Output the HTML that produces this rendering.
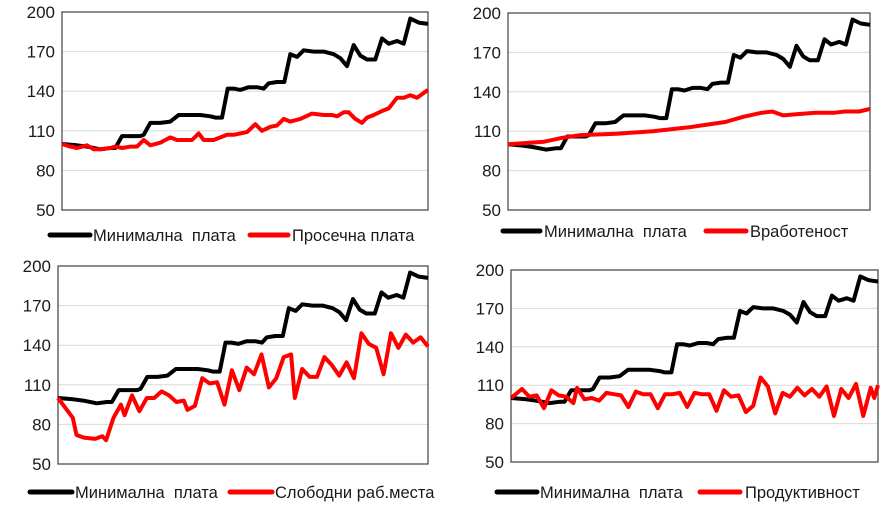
<!DOCTYPE html>
<html><head><meta charset="utf-8"><style>
body{margin:0;background:#fff;width:890px;height:513px;overflow:hidden}
svg text{font-family:"Liberation Sans","DejaVu Sans",sans-serif;fill:#1a1a1a}
</style></head><body>
<svg id="s" width="890" height="513" xmlns="http://www.w3.org/2000/svg"></svg>
<script>
const B=[[185,100],[230,99],[260,98],[300,96],[330,97],[345,97],[365,106],[420,106],[430,107],[450,116],[480,116],[510,117],[535,122],[560,122],[600,122],[630,121],[645,120],[665,120],[682,142],[700,142],[720,141],[745,143],[770,143],[790,142],[805,146],[830,147],[852,147],[870,168],[890,166],[910,171],[940,170],[970,170],[1000,168],[1020,165],[1040,159],[1060,175],[1080,167],[1100,164],[1125,164],[1145,180],[1165,176],[1190,178],[1210,176],[1230,195],[1255,192],[1283,191]].map(p=>[(p[0]-185)/1098,p[1]]);
const R1=[[185,100],[210,98],[230,97],[260,99],[280,96],[300,96],[330,97],[345,98],[365,97],[390,98],[410,98],[430,103],[450,99],[480,101],[510,105],[530,103],[575,103],[595,108],[610,103],[640,103],[680,107],[700,107],[740,109],[765,115],[785,110],[810,113],[830,114],[850,119],[870,117],[900,119],[935,123],[970,122],[995,122],[1010,121],[1030,124],[1045,124],[1065,119],[1085,116],[1100,120],[1120,122],[1145,125],[1165,127],[1190,135],[1210,135],[1230,137],[1250,135],[1283,141]].map(p=>[(p[0]-185)/1098,p[1]]);
const R2=[[0,100],[.05,101],[.1,102],[.15,105],[.2,107],[.3,108],[.4,110],[.5,113],[.55,115],[.6,117],[.65,121],[.7,124],[.73,125],[.76,122],[.8,123],[.85,124],[.9,124],[.93,125],[.97,125],[1,127]];
const R3=[[0,100],[.04,85],[.05,72],[.07,70],[.10,69],[.12,71],[.13,68],[.15,85],[.17,95],[.18,87],[.20,102],[.22,90],[.24,100],[.26,100],[.28,105],[.30,102],[.32,97],[.34,98],[.35,91],[.37,94],[.39,115],[.41,111],[.43,112],[.45,95],[.47,121],[.49,106],[.51,123],[.53,118],[.55,133],[.57,108],[.59,115],[.61,131],[.63,133],[.64,100],[.66,122],[.68,116],[.70,116],[.72,131],[.74,125],[.76,117],[.78,127],[.80,115],[.82,149],[.84,141],[.86,138],[.88,118],[.90,149],[.92,138],[.94,148],[.96,142],[.98,146],[1,139]];
const R4=[[0,100],[.03,107],[.05,101],[.07,102],[.09,92],[.11,106],[.13,102],[.15,101],[.17,96],[.18,108],[.20,99],[.22,100],[.24,98],[.26,104],[.28,103],[.30,102],[.32,93],[.34,105],[.36,103],[.38,103],[.40,92],[.42,103],[.44,103],[.46,104],[.48,93],[.50,104],[.52,103],[.54,103],[.56,90],[.58,106],[.60,101],[.62,102],[.64,89],[.66,94],[.68,116],[.70,109],[.72,88],[.74,104],[.76,101],[.78,108],[.80,102],[.82,107],[.84,101],[.86,109],[.88,86],[.90,107],[.92,100],[.94,111],[.96,86],[.98,108],[.99,100],[1,110]];
const charts=[
{l:62,r:428,t:12,b:210,red:R1,lab:"Просечна плата",ly:235,bl:[50,90,93],rl:[250,288,292]},
{l:508,r:870,t:13,b:210,red:R2,lab:"Вработеност",ly:231,bl:[503,540,544],rl:[706,746,750]},
{l:58,r:428,t:266,b:464,red:R3,lab:"Слободни раб.места",ly:492,bl:[30,72,75],rl:[230,272,275]},
{l:511,r:878,t:270,b:462,red:R4,lab:"Продуктивност",ly:492,bl:[497,537,540],rl:[700,740,745]}];
let h="";
for(const c of charts){
 const Y=v=>c.b-(v-50)/150*(c.b-c.t), X=f=>c.l+f*(c.r-c.l);
 for(let v=50;v<=200;v+=30){
  if(v>50&&v<200)h+=`<line x1="${c.l}" x2="${c.r}" y1="${Y(v)}" y2="${Y(v)}" stroke="#d9d9d9" stroke-width="1"/>`;
  h+=`<text x="${c.l-7}" y="${Y(v)+6}" font-size="17" text-anchor="end">${v}</text>`;
 }
 h+=`<rect x="${c.l}" y="${c.t}" width="${c.r-c.l}" height="${c.b-c.t}" fill="none" stroke="#404040" stroke-width="1.2"/>`;
 const P=a=>a.map(p=>X(p[0]).toFixed(1)+","+Y(p[1]).toFixed(1)).join(" ");
 h+=`<polyline points="${P(B)}" fill="none" stroke="#000" stroke-width="4" stroke-linejoin="round"/>`;
 h+=`<polyline points="${P(c.red)}" fill="none" stroke="#f00" stroke-width="4" stroke-linejoin="round"/>`;
 h+=`<line x1="${c.bl[0]}" x2="${c.bl[1]}" y1="${c.ly}" y2="${c.ly}" stroke="#000" stroke-width="5" stroke-linecap="round"/>`;
 h+=`<text x="${c.bl[2]}" y="${c.ly+6}" font-size="16.5">Минимална&#160; плата</text>`;
 h+=`<line x1="${c.rl[0]}" x2="${c.rl[1]}" y1="${c.ly}" y2="${c.ly}" stroke="#f00" stroke-width="5" stroke-linecap="round"/>`;
 h+=`<text x="${c.rl[2]}" y="${c.ly+6}" font-size="16.5">${c.lab}</text>`;
}
document.getElementById("s").innerHTML=h;
</script>
</body></html>
